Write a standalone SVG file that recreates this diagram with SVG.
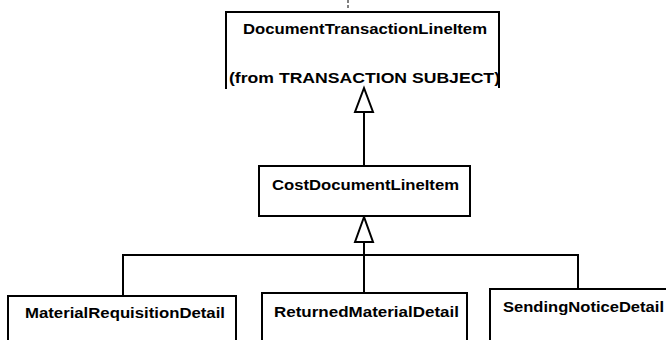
<svg xmlns="http://www.w3.org/2000/svg" width="666" height="340" viewBox="0 0 666 340">
<style>
.box{fill:#fff;stroke:#000;stroke-width:2}
.t{font-family:"Liberation Sans",Arial,sans-serif;font-weight:bold;font-size:15.5px;fill:#000}
.ln{fill:none;stroke:#000;stroke-width:2}
.tri{fill:#fff;stroke:#000;stroke-width:2;stroke-linejoin:miter}
</style>
<rect width="666" height="340" fill="#fff"/>
<line x1="348" y1="0" x2="348" y2="9" stroke="#000" stroke-width="1" stroke-dasharray="3,2"/>
<g id="connectors">
<line class="ln" x1="364" y1="112" x2="364" y2="166"/>
<polygon class="tri" points="364,88 355,112 373,112"/>
<line class="ln" x1="122" y1="255" x2="579" y2="255" stroke-width="2.5"/>
<line class="ln" x1="123" y1="255" x2="123" y2="296"/>
<line class="ln" x1="578" y1="255" x2="578" y2="289"/>
<line class="ln" x1="364" y1="242" x2="364" y2="293" stroke-width="1.2"/>
<polygon class="tri" points="364,217 355,242 373,242"/>
</g>
<g id="DocumentTransactionLineItem">
<path d="M226,89 V12 H499 V88" fill="none" stroke="#000" stroke-width="2"/>
<text class="t" x="243" y="34" textLength="244" lengthAdjust="spacingAndGlyphs">DocumentTransactionLineItem</text>
<text class="t" x="229" y="83" textLength="271" lengthAdjust="spacingAndGlyphs">(from TRANSACTION SUBJECT)</text>
</g>
<g id="CostDocumentLineItem">
<rect class="box" x="259" y="166" width="211" height="50"/>
<text class="t" x="272" y="190" textLength="187" lengthAdjust="spacingAndGlyphs">CostDocumentLineItem</text>
</g>
<g id="MaterialRequisitionDetail">
<rect class="box" x="8" y="296" width="228" height="60"/>
<text class="t" x="25" y="318" textLength="200" lengthAdjust="spacingAndGlyphs">MaterialRequisitionDetail</text>
</g>
<g id="ReturnedMaterialDetail">
<rect class="box" x="262" y="293" width="205" height="60"/>
<text class="t" x="274" y="317" textLength="185" lengthAdjust="spacingAndGlyphs">ReturnedMaterialDetail</text>
</g>
<g id="SendingNoticeDetail">
<rect class="box" x="490" y="289" width="220" height="60"/>
<text class="t" x="503" y="312" textLength="161" lengthAdjust="spacingAndGlyphs">SendingNoticeDetail</text>
</g>
</svg>
